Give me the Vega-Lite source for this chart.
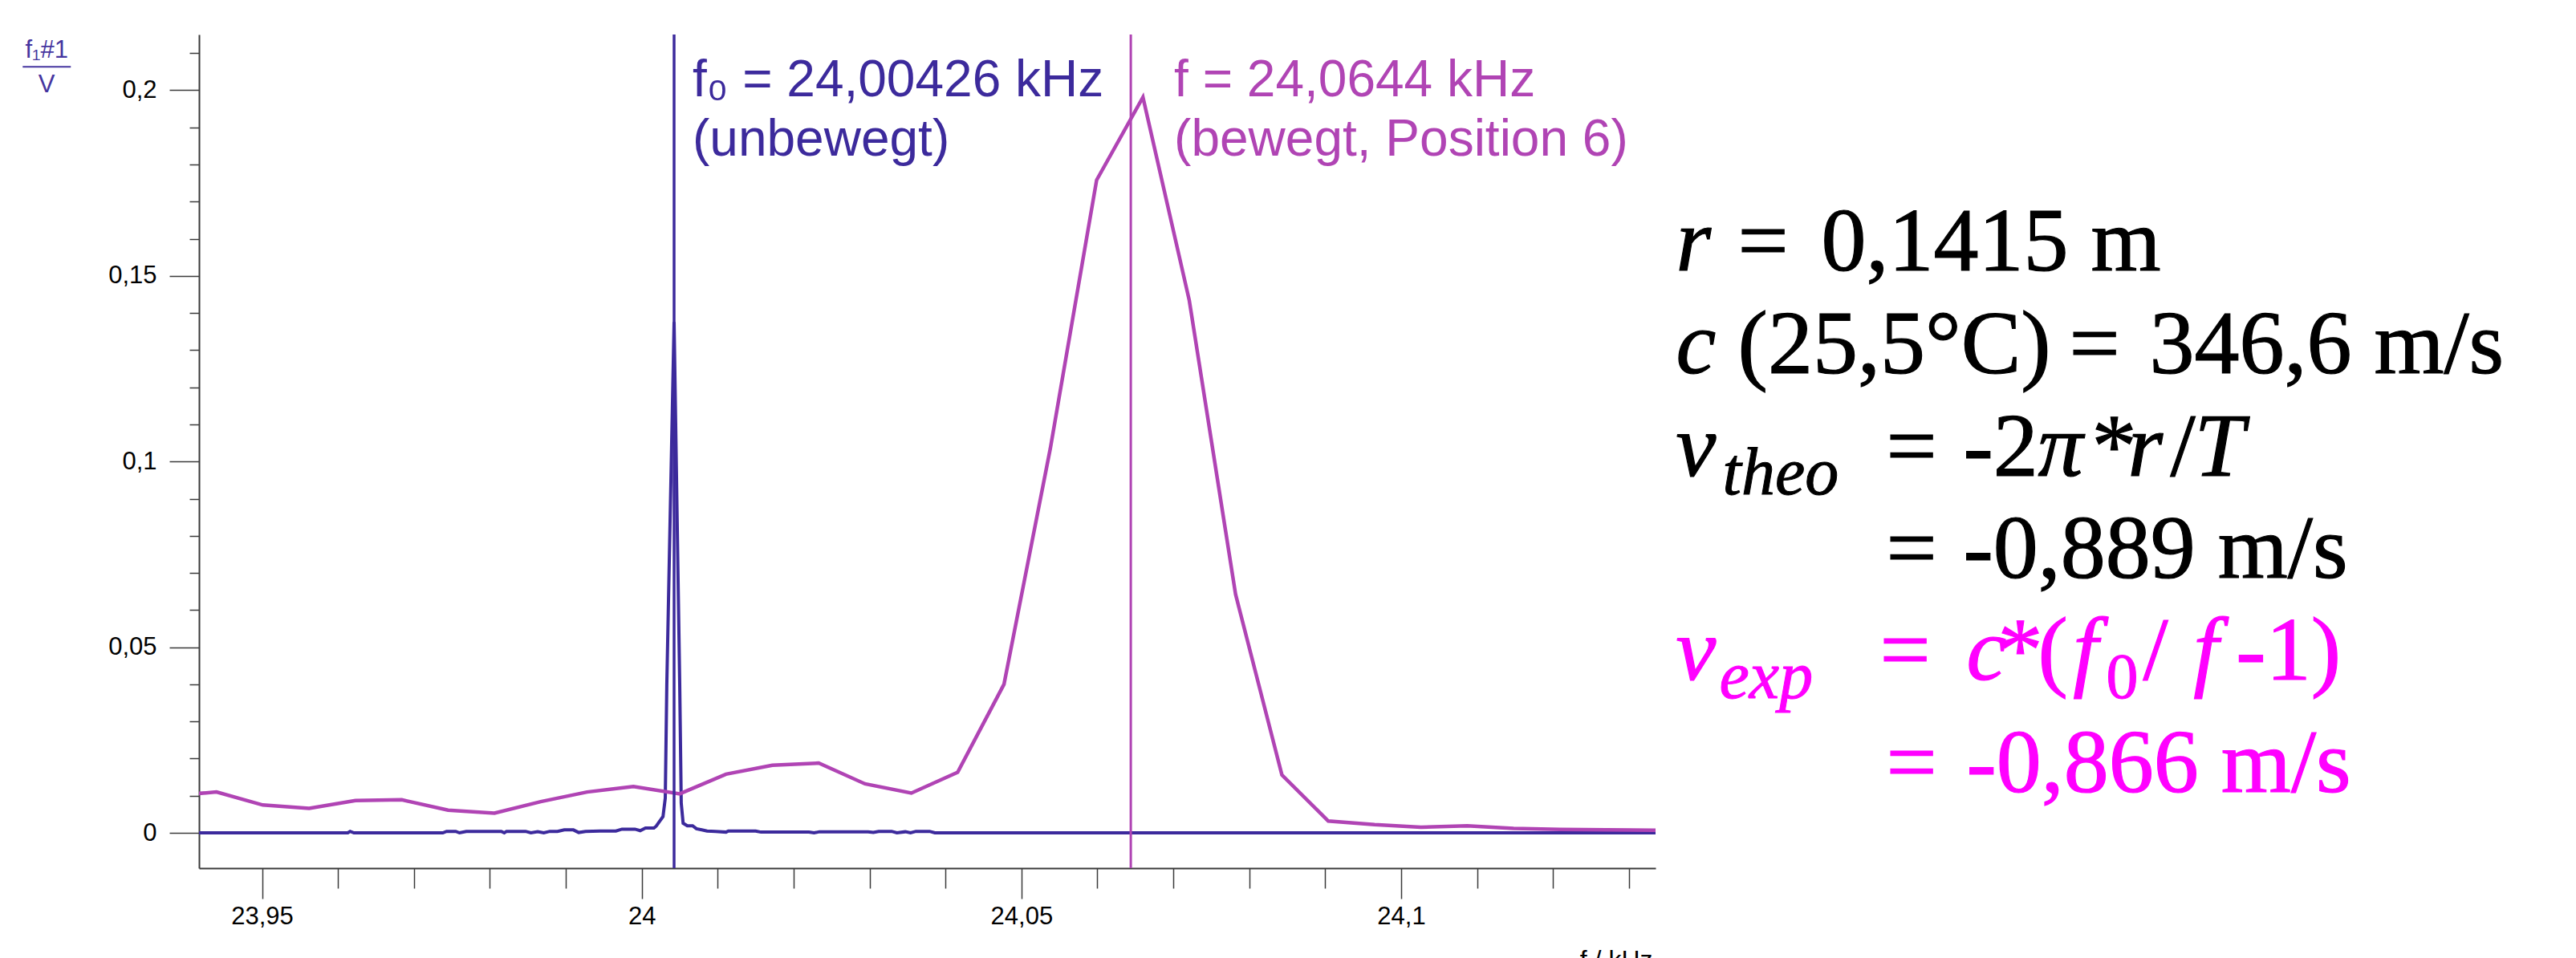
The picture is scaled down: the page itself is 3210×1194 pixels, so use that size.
{
  "$schema": "https://vega.github.io/schema/vega-lite/v6.json",
  "width": 1815,
  "height": 1039,
  "autosize": {"type": "none"},
  "padding": {"left": 248, "top": 43, "right": 1147, "bottom": 112},
  "background": "#ffffff",
  "config": {
    "view": {"stroke": null},
    "font": "Liberation Sans",
    "axis": {"grid": false, "domainColor": "#3a3a3a", "domainWidth": 2, "tickColor": "#3a3a3a", "tickWidth": 1.5, "labelColor": "#000000", "labelFont": "Liberation Sans", "labelFontSize": 31, "labelOverlap": false, "labelFlush": false}
  },
  "datasets": {
    "blue": [
      {"f": 23.9417, "v": 0}, {"f": 23.9613, "v": 0}, {"f": 23.9616, "v": 0.0004}, {"f": 23.9621, "v": 0},
      {"f": 23.9738, "v": 0}, {"f": 23.9743, "v": 0.0004}, {"f": 23.9755, "v": 0.0004}, {"f": 23.976, "v": 0},
      {"f": 23.9769, "v": 0.0004}, {"f": 23.9815, "v": 0.0004}, {"f": 23.9819, "v": 0}, {"f": 23.9822, "v": 0.0004},
      {"f": 23.9847, "v": 0.0004}, {"f": 23.9854, "v": 0}, {"f": 23.9863, "v": 0.0003}, {"f": 23.9871, "v": 0},
      {"f": 23.9879, "v": 0.0004}, {"f": 23.9889, "v": 0.0004}, {"f": 23.9898, "v": 0.0008}, {"f": 23.991, "v": 0.0008},
      {"f": 23.9917, "v": 0.0001}, {"f": 23.9926, "v": 0.0004}, {"f": 23.9945, "v": 0.0005}, {"f": 23.9966, "v": 0.0005},
      {"f": 23.9974, "v": 0.001}, {"f": 23.9991, "v": 0.001}, {"f": 23.9998, "v": 0.0006}, {"f": 24.0005, "v": 0.0013},
      {"f": 24.0016, "v": 0.0013}, {"f": 24.0019, "v": 0.0018}, {"f": 24.0028, "v": 0.0044}, {"f": 24.0031, "v": 0.0094},
      {"f": 24.0033, "v": 0.04}, {"f": 24.00426, "v": 0.1376}, {"f": 24.005, "v": 0.04}, {"f": 24.0052, "v": 0.008},
      {"f": 24.00545, "v": 0.0026}, {"f": 24.006, "v": 0.0019}, {"f": 24.0067, "v": 0.0019}, {"f": 24.0072, "v": 0.0011},
      {"f": 24.0079, "v": 0.0008}, {"f": 24.0086, "v": 0.0005}, {"f": 24.0097, "v": 0.0004}, {"f": 24.0111, "v": 0.0002},
      {"f": 24.0114, "v": 0.0005}, {"f": 24.015, "v": 0.0005}, {"f": 24.0157, "v": 0.0002}, {"f": 24.022, "v": 0.0002},
      {"f": 24.0227, "v": 0}, {"f": 24.0234, "v": 0.0003}, {"f": 24.0298, "v": 0.0003}, {"f": 24.0305, "v": 0.0001},
      {"f": 24.0312, "v": 0.0004}, {"f": 24.0329, "v": 0.0004}, {"f": 24.0336, "v": 0}, {"f": 24.0347, "v": 0.0003},
      {"f": 24.0354, "v": 0}, {"f": 24.0361, "v": 0.0004}, {"f": 24.0379, "v": 0.0004}, {"f": 24.0386, "v": 0},
      {"f": 24.134, "v": 0}
    ],
    "mag": [
      {"f": 23.9379, "v": 0.01}, {"f": 23.944, "v": 0.011}, {"f": 23.9501, "v": 0.0075}, {"f": 23.9562, "v": 0.0066},
      {"f": 23.9623, "v": 0.0087}, {"f": 23.9684, "v": 0.0089}, {"f": 23.9745, "v": 0.0061}, {"f": 23.9806, "v": 0.0053},
      {"f": 23.9867, "v": 0.0084}, {"f": 23.9928, "v": 0.011}, {"f": 23.9989, "v": 0.0125}, {"f": 24.005, "v": 0.0105},
      {"f": 24.0111, "v": 0.0158}, {"f": 24.0172, "v": 0.0182}, {"f": 24.0233, "v": 0.0188}, {"f": 24.0294, "v": 0.0132},
      {"f": 24.0355, "v": 0.0107}, {"f": 24.0416, "v": 0.0163}, {"f": 24.0477, "v": 0.04}, {"f": 24.0538, "v": 0.1035},
      {"f": 24.0599, "v": 0.1758}, {"f": 24.066, "v": 0.1981}, {"f": 24.0721, "v": 0.1434}, {"f": 24.0782, "v": 0.0642},
      {"f": 24.0843, "v": 0.0156}, {"f": 24.0904, "v": 0.0032}, {"f": 24.0965, "v": 0.0022}, {"f": 24.1026, "v": 0.0015},
      {"f": 24.1087, "v": 0.0019}, {"f": 24.1148, "v": 0.0012}, {"f": 24.1209, "v": 0.0009}, {"f": 24.127, "v": 0.0008},
      {"f": 24.1331, "v": 0.0007}, {"f": 24.1392, "v": 0.0006}
    ],
    "ann": [
      {"f": 24.00426, "v": 0.19845, "t": "f₀ = 24,00426 kHz", "s": "f0"},
      {"f": 24.00426, "v": 0.18246, "t": "(unbewegt)", "s": "f0"},
      {"f": 24.0644, "v": 0.19845, "t": "f = 24,0644 kHz", "s": "f"},
      {"f": 24.0644, "v": 0.18246, "t": "(bewegt, Position 6)", "s": "f"}
    ],
    "eq": [
      {"t": "r", "f": 24.1362, "v": 0.15147, "st": "i", "r": "m", "k": "a"},
      {"t": "=", "f": 24.14434, "v": 0.15147, "st": "n", "r": "m", "k": "a"},
      {"t": "0,1415 m", "f": 24.15533, "v": 0.15147, "st": "n", "r": "m", "k": "a"},
      {"t": "c", "f": 24.1362, "v": 0.12375, "st": "i", "r": "m", "k": "a"},
      {"t": "(25,5°C)", "f": 24.14434, "v": 0.12375, "st": "n", "r": "m", "k": "a"},
      {"t": "=", "f": 24.18797, "v": 0.12375, "st": "n", "r": "m", "k": "a"},
      {"t": "346,6 m/s", "f": 24.19853, "v": 0.12375, "st": "n", "r": "m", "k": "a"},
      {"t": "v", "f": 24.1362, "v": 0.09609, "st": "i", "r": "m", "k": "a"},
      {"t": "theo", "f": 24.14233, "v": 0.0912, "st": "i", "r": "s", "k": "a"},
      {"t": "=", "f": 24.16388, "v": 0.09609, "st": "n", "r": "m", "k": "a"},
      {"t": "-2", "f": 24.17402, "v": 0.09609, "st": "n", "r": "m", "k": "a"},
      {"t": "π", "f": 24.18385, "v": 0.09609, "st": "i", "r": "m", "k": "a"},
      {"t": "*", "f": 24.19093, "v": 0.09609, "st": "n", "r": "m", "k": "a"},
      {"t": "r", "f": 24.19568, "v": 0.09609, "st": "i", "r": "m", "k": "a"},
      {"t": "/", "f": 24.20128, "v": 0.09609, "st": "n", "r": "m", "k": "a"},
      {"t": "T", "f": 24.20445, "v": 0.09609, "st": "i", "r": "m", "k": "a"},
      {"t": "=", "f": 24.16388, "v": 0.06865, "st": "n", "r": "m", "k": "a"},
      {"t": "-0,889 m/s", "f": 24.17402, "v": 0.06865, "st": "n", "r": "m", "k": "a"},
      {"t": "v", "f": 24.1362, "v": 0.04127, "st": "i", "r": "m", "k": "b"},
      {"t": "exp", "f": 24.14191, "v": 0.0362, "st": "i", "r": "s", "k": "b"},
      {"t": "=", "f": 24.16304, "v": 0.04127, "st": "n", "r": "m", "k": "b"},
      {"t": "c", "f": 24.17445, "v": 0.04127, "st": "i", "r": "m", "k": "b"},
      {"t": "*", "f": 24.17857, "v": 0.04127, "st": "n", "r": "m", "k": "b"},
      {"t": "(", "f": 24.18385, "v": 0.04127, "st": "n", "r": "m", "k": "b"},
      {"t": "f", "f": 24.18849, "v": 0.04127, "st": "i", "r": "m", "k": "b"},
      {"t": "0", "f": 24.19283, "v": 0.0362, "st": "n", "r": "s", "k": "b"},
      {"t": "/", "f": 24.19769, "v": 0.04127, "st": "n", "r": "m", "k": "b"},
      {"t": "f", "f": 24.20434, "v": 0.04127, "st": "i", "r": "m", "k": "b"},
      {"t": "-1)", "f": 24.20994, "v": 0.04127, "st": "n", "r": "m", "k": "b"},
      {"t": "=", "f": 24.16388, "v": 0.01102, "st": "n", "r": "m", "k": "b"},
      {"t": "-0,866 m/s", "f": 24.17445, "v": 0.01102, "st": "n", "r": "m", "k": "b"}
    ],
    "ylab": [
      {"t": "f₁#1", "f": 23.92164, "v": 0.20867},
      {"t": "V", "f": 23.92164, "v": 0.19938}
    ],
    "bar": [{"f": 23.91848, "f2": 23.92482, "v": 0.20629}]
  },
  "layer": [
    {
      "data": {"name": "blue"},
      "mark": {"type": "line", "color": "#3C2A9C", "strokeWidth": 4, "clip": true},
      "encoding": {
        "x": {
          "field": "f", "type": "quantitative",
          "scale": {"domain": [23.9417, 24.1335], "nice": false, "zero": false},
          "axis": {
            "values": [23.95, 23.96, 23.97, 23.98, 23.99, 24, 24.01, 24.02, 24.03, 24.04, 24.05, 24.06, 24.07, 24.08, 24.09, 24.1, 24.11, 24.12, 24.13],
            "labelExpr": "abs(datum.value*20-round(datum.value*20))<0.001 ? replace(format(datum.value,'~g'),'.',',') : ''",
            "tickSize": {"condition": {"test": "abs(datum.value*20-round(datum.value*20))<0.001", "value": 38}, "value": 25},
            "labelPadding": 7,
            "labelFontSize": 31,
            "title": "f / kHz", "titleX": 1811, "titleY": 124, "titleAlign": "right", "titleBaseline": "alphabetic",
            "titleFontSize": 32, "titleFontWeight": "normal", "titleColor": "#000000", "titleFont": "Liberation Sans"
          }
        },
        "y": {
          "field": "v", "type": "quantitative",
          "scale": {"domain": [-0.0095, 0.215], "nice": false, "zero": false},
          "axis": {
            "values": [0, 0.01, 0.02, 0.03, 0.04, 0.05, 0.06, 0.07, 0.08, 0.09, 0.1, 0.11, 0.12, 0.13, 0.14, 0.15, 0.16, 0.17, 0.18, 0.19, 0.2, 0.21],
            "labelExpr": "abs(datum.value*20-round(datum.value*20))<0.001 ? replace(format(datum.value,'~g'),'.',',') : ''",
            "tickSize": {"condition": {"test": "abs(datum.value*20-round(datum.value*20))<0.001", "value": 37}, "value": 12},
            "labelPadding": 16,
            "labelFontSize": 31,
            "title": null
          }
        }
      }
    },
    {
      "data": {"name": "mag"},
      "mark": {"type": "line", "color": "#B044B4", "strokeWidth": 4.5, "clip": true},
      "encoding": {
        "x": {"field": "f", "type": "quantitative"},
        "y": {"field": "v", "type": "quantitative"}
      }
    },
    {
      "data": {"values": [{"f": 24.00426}]},
      "mark": {"type": "rule", "color": "#3C2A9C", "strokeWidth": 3.5},
      "encoding": {"x": {"field": "f", "type": "quantitative"}}
    },
    {
      "data": {"values": [{"f": 24.0644}]},
      "mark": {"type": "rule", "color": "#B044B4", "strokeWidth": 3},
      "encoding": {"x": {"field": "f", "type": "quantitative"}}
    },
    {
      "data": {"name": "ann"},
      "transform": [{"filter": "datum.s == 'f0'"}],
      "mark": {"type": "text", "align": "left", "baseline": "alphabetic", "dx": 23, "fontSize": 64, "font": "Liberation Sans", "color": "#3C2A9C", "clip": false},
      "encoding": {
        "x": {"field": "f", "type": "quantitative"},
        "y": {"field": "v", "type": "quantitative"},
        "text": {"field": "t"}
      }
    },
    {
      "data": {"name": "ann"},
      "transform": [{"filter": "datum.s == 'f'"}],
      "mark": {"type": "text", "align": "left", "baseline": "alphabetic", "dx": 54, "fontSize": 64, "font": "Liberation Sans", "color": "#B044B4", "clip": false},
      "encoding": {
        "x": {"field": "f", "type": "quantitative"},
        "y": {"field": "v", "type": "quantitative"},
        "text": {"field": "t"}
      }
    },
    {
      "data": {"name": "ylab"},
      "mark": {"type": "text", "align": "center", "baseline": "alphabetic", "fontSize": 31, "font": "Liberation Sans", "color": "#45359F", "clip": false},
      "encoding": {
        "x": {"field": "f", "type": "quantitative"},
        "y": {"field": "v", "type": "quantitative"},
        "text": {"field": "t"}
      }
    },
    {
      "data": {"name": "bar"},
      "mark": {"type": "rule", "color": "#45359F", "strokeWidth": 2, "clip": false},
      "encoding": {
        "x": {"field": "f", "type": "quantitative"},
        "x2": {"field": "f2"},
        "y": {"field": "v", "type": "quantitative"}
      }
    },
    {
      "data": {"name": "eq"},
      "transform": [{"filter": "datum.st == 'n' && datum.r == 'm'"}],
      "mark": {"type": "text", "align": "left", "baseline": "alphabetic", "fontSize": 112, "font": "Liberation Serif", "strokeWidth": 1.2, "clip": false},
      "encoding": {
        "x": {"field": "f", "type": "quantitative"},
        "y": {"field": "v", "type": "quantitative"},
        "text": {"field": "t"},
        "color": {"field": "k", "type": "nominal", "scale": {"domain": ["a", "b"], "range": ["#000000", "#FF00FF"]}, "legend": null},
        "stroke": {"field": "k", "type": "nominal", "scale": {"domain": ["a", "b"], "range": ["#000000", "#FF00FF"]}, "legend": null}
      }
    },
    {
      "data": {"name": "eq"},
      "transform": [{"filter": "datum.st == 'i' && datum.r == 'm'"}],
      "mark": {"type": "text", "align": "left", "baseline": "alphabetic", "fontSize": 112, "fontStyle": "italic", "font": "Liberation Serif", "strokeWidth": 1.2, "clip": false},
      "encoding": {
        "x": {"field": "f", "type": "quantitative"},
        "y": {"field": "v", "type": "quantitative"},
        "text": {"field": "t"},
        "color": {"field": "k", "type": "nominal", "scale": {"domain": ["a", "b"], "range": ["#000000", "#FF00FF"]}, "legend": null},
        "stroke": {"field": "k", "type": "nominal", "scale": {"domain": ["a", "b"], "range": ["#000000", "#FF00FF"]}, "legend": null}
      }
    },
    {
      "data": {"name": "eq"},
      "transform": [{"filter": "datum.st == 'i' && datum.r == 's'"}],
      "mark": {"type": "text", "align": "left", "baseline": "alphabetic", "fontSize": 84, "fontStyle": "italic", "font": "Liberation Serif", "strokeWidth": 1, "clip": false},
      "encoding": {
        "x": {"field": "f", "type": "quantitative"},
        "y": {"field": "v", "type": "quantitative"},
        "text": {"field": "t"},
        "color": {"field": "k", "type": "nominal", "scale": {"domain": ["a", "b"], "range": ["#000000", "#FF00FF"]}, "legend": null},
        "stroke": {"field": "k", "type": "nominal", "scale": {"domain": ["a", "b"], "range": ["#000000", "#FF00FF"]}, "legend": null}
      }
    },
    {
      "data": {"name": "eq"},
      "transform": [{"filter": "datum.st == 'n' && datum.r == 's'"}],
      "mark": {"type": "text", "align": "left", "baseline": "alphabetic", "fontSize": 80, "font": "Liberation Serif", "strokeWidth": 1, "clip": false},
      "encoding": {
        "x": {"field": "f", "type": "quantitative"},
        "y": {"field": "v", "type": "quantitative"},
        "text": {"field": "t"},
        "color": {"field": "k", "type": "nominal", "scale": {"domain": ["a", "b"], "range": ["#000000", "#FF00FF"]}, "legend": null},
        "stroke": {"field": "k", "type": "nominal", "scale": {"domain": ["a", "b"], "range": ["#000000", "#FF00FF"]}, "legend": null}
      }
    }
  ]
}
